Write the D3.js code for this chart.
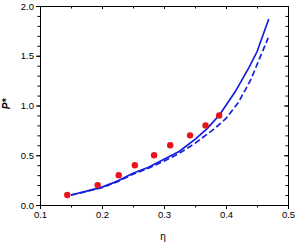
<!DOCTYPE html>
<html><head><meta charset="utf-8">
<script src="https://cdn.jsdelivr.net/npm/d3@7"></script>
<style>body{margin:0;background:#fff}svg{display:block}text{font-family:"Liberation Sans",Arial,sans-serif}</style>
</head><body>
<script>
const dotEta = [0.144, 0.193, 0.227, 0.253, 0.284, 0.310, 0.342, 0.367, 0.389];
const dotP   = [0.10, 0.20, 0.30, 0.40, 0.50, 0.60, 0.70, 0.80, 0.90];
const solidEta = [0.150, 0.175, 0.200, 0.225, 0.250, 0.275, 0.300, 0.325, 0.350, 0.370, 0.390, 0.415, 0.437, 0.450, 0.469];
const solidP   = [0.10, 0.14, 0.18, 0.24, 0.32, 0.38, 0.46, 0.54, 0.66, 0.77, 0.91, 1.14, 1.38, 1.54, 1.87];
const dashEta = [0.150, 0.175, 0.200, 0.225, 0.250, 0.275, 0.300, 0.325, 0.350, 0.380, 0.400, 0.420, 0.440, 0.468];
const dashP   = [0.10, 0.135, 0.175, 0.235, 0.31, 0.37, 0.44, 0.52, 0.62, 0.76, 0.87, 1.03, 1.26, 1.68];
const xTicks = [0.1, 0.2, 0.3, 0.4, 0.5];
const yTicks = [0.0, 0.5, 1.0, 1.5, 2.0];

const W = 296, H = 243;
const L = 40, R = 288, T = 6, B = 205;
const svg = d3.select("body").append("svg").attr("width", W).attr("height", H);
const x = d3.scaleLinear().domain([0.1, 0.5]).range([L, R]);
const y = d3.scaleLinear().domain([0, 2]).range([B, T]);

const xMinor = d3.range(0.1, 0.5001, 0.05).map(v => +v.toFixed(2));
const yMinor = d3.range(0, 2.0001, 0.1).map(v => +v.toFixed(2));
const fmt = d3.format(".1f");

function style(g){ g.select(".domain").attr("stroke","#000").attr("stroke-width",1); g.selectAll("line").attr("stroke","#000"); g.selectAll("text").attr("font-size",9.5).attr("fill","#000"); }

// minor ticks
svg.append("g").attr("transform",`translate(0,${B})`).call(d3.axisBottom(x).tickValues(xMinor).tickSize(2.5).tickFormat("")).call(style);
svg.append("g").attr("transform",`translate(0,${T})`).call(d3.axisBottom(x).tickValues(xMinor).tickSize(2.5).tickFormat("")).call(style);
svg.append("g").attr("transform",`translate(${L},0)`).call(d3.axisLeft(y).tickValues(yMinor).tickSize(2.5).tickFormat("")).call(style);
svg.append("g").attr("transform",`translate(${R},0)`).call(d3.axisLeft(y).tickValues(yMinor).tickSize(2.5).tickFormat("")).call(style);
// major ticks
svg.append("g").attr("transform",`translate(0,${B})`).call(d3.axisBottom(x).tickValues(xTicks).tickSize(4).tickPadding(2).tickFormat(fmt)).call(style);
svg.append("g").attr("transform",`translate(0,${T})`).call(d3.axisBottom(x).tickValues(xTicks).tickSize(3).tickFormat("")).call(style);
svg.append("g").attr("transform",`translate(${L},0)`).call(d3.axisLeft(y).tickValues(yTicks).tickSize(4).tickPadding(2).tickFormat(fmt)).call(style);
svg.append("g").attr("transform",`translate(${R},0)`).call(d3.axisLeft(y).tickValues(yTicks).tickSize(4).tickFormat("")).call(style);

const line = d3.line().x(d => x(d[0])).y(d => y(d[1]));
svg.append("path").datum(solidEta.map((e,i)=>[e,solidP[i]]))
  .attr("d", line).attr("fill","none").attr("stroke","#1420dc").attr("stroke-width",1.7);
svg.append("path").datum(dashEta.map((e,i)=>[e,dashP[i]]))
  .attr("d", line).attr("fill","none").attr("stroke","#1420dc").attr("stroke-width",1.7).attr("stroke-dasharray","6,3");

svg.append("g").selectAll("circle").data(dotEta.map((e,i)=>[e,dotP[i]])).join("circle")
  .attr("cx", d => x(d[0])).attr("cy", d => y(d[1])).attr("r", 3.2).attr("fill","#e8141c");

svg.append("text").attr("x", 163).attr("y", 240).attr("text-anchor","middle").attr("font-size",10).text("η");
svg.append("text").attr("transform","translate(10,104) rotate(-90)").attr("text-anchor","middle")
  .attr("font-size",10).attr("font-weight","bold").attr("font-style","italic").text("P*");
</script>
</body></html>
